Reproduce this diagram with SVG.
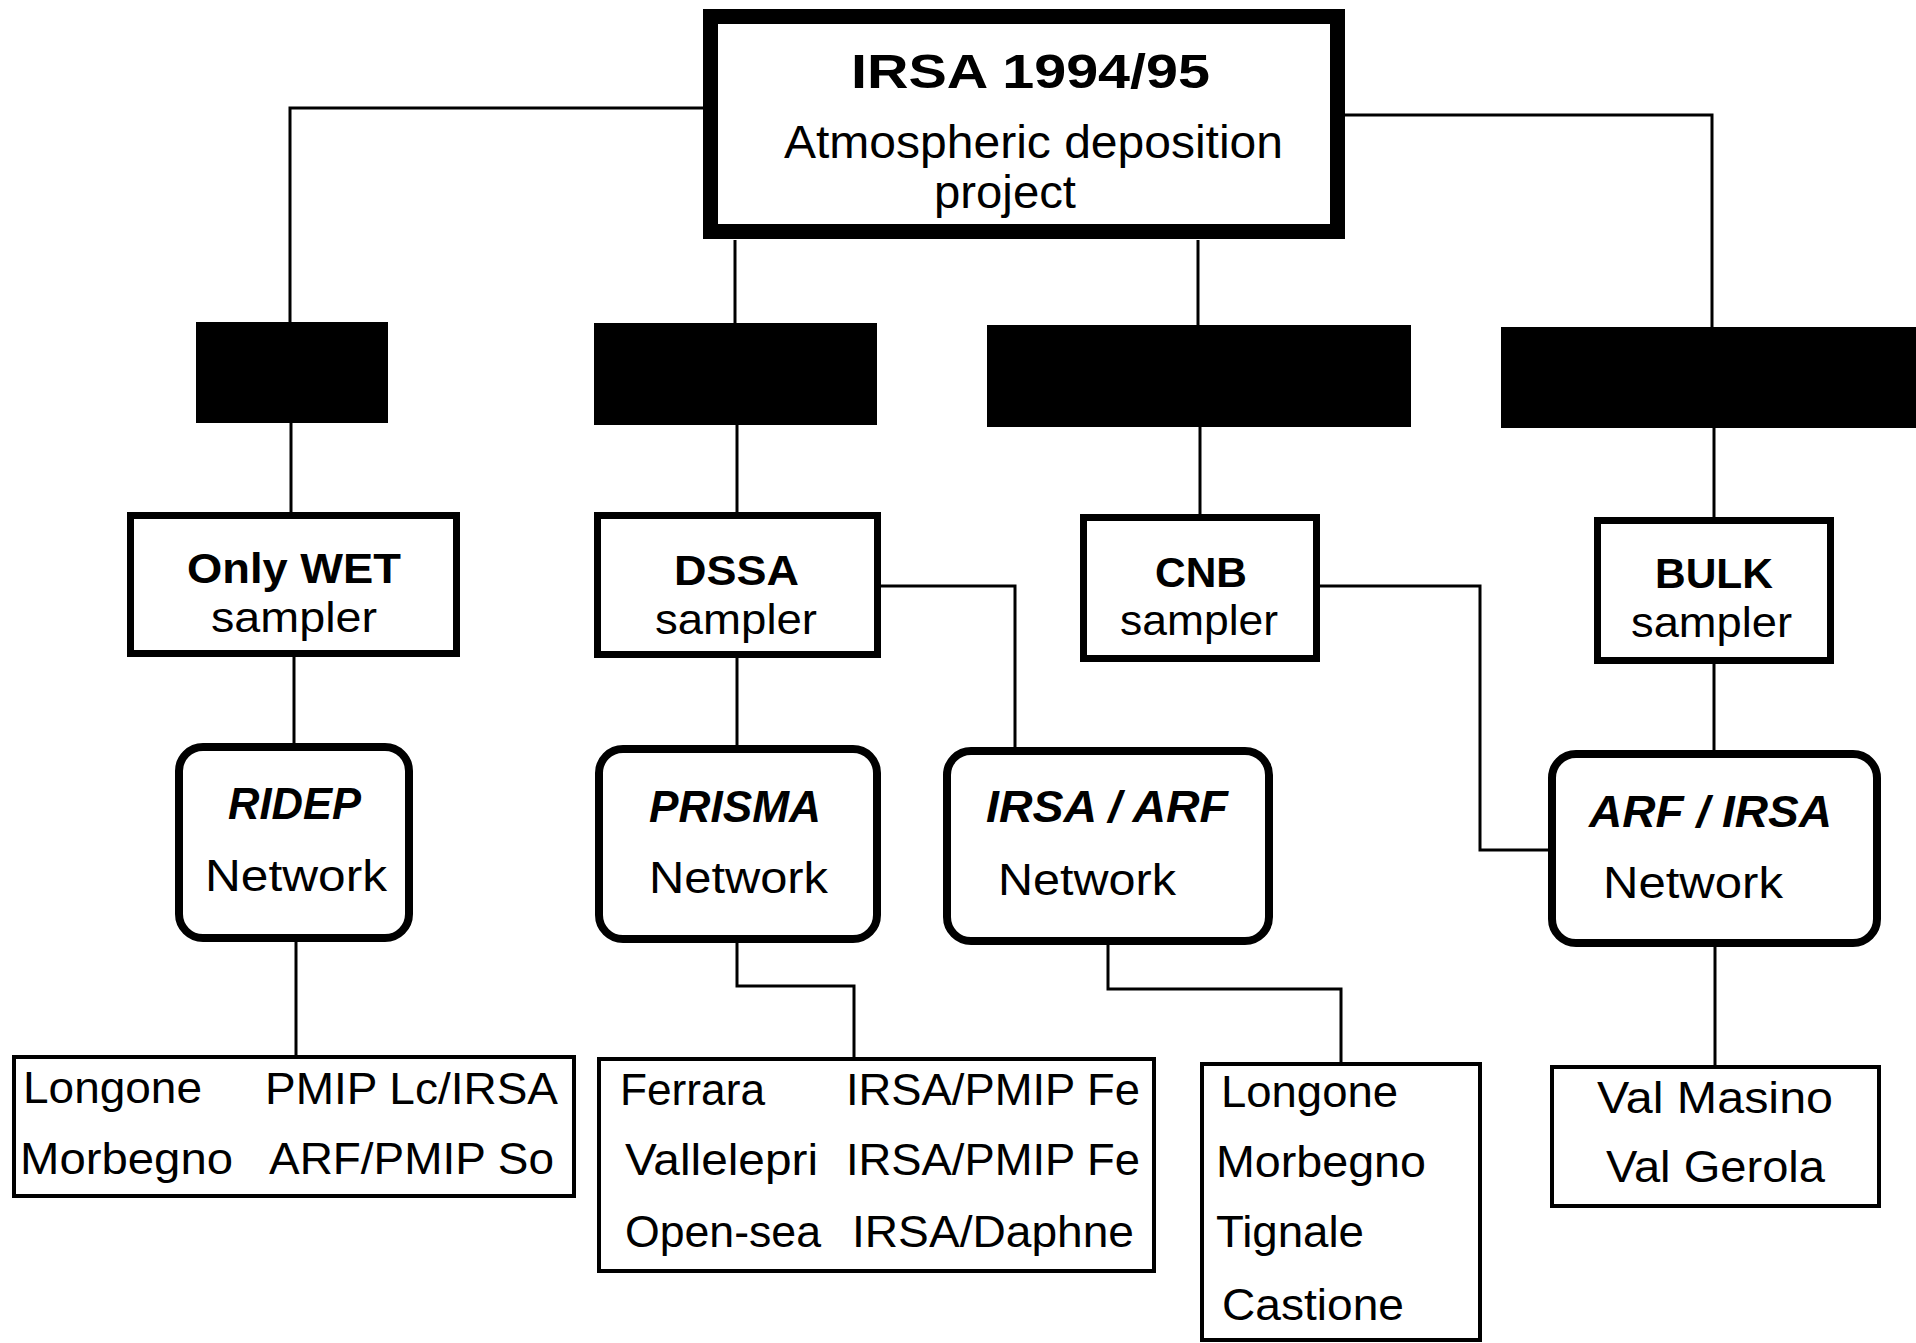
<svg xmlns="http://www.w3.org/2000/svg" width="1916" height="1343" viewBox="0 0 1916 1343">
<style>
text{font-family:"Liberation Sans",Arial,Helvetica,sans-serif;fill:#000;}
.t{font-size:46px;}
.tb{font-size:49px;font-weight:bold;}
.lb{font-size:43px;font-weight:bold;}
.lr{font-size:43px;}
.nr{font-size:45px;}
.li{font-size:45px;font-weight:bold;font-style:italic;}
.ls{font-size:45px;}
.top{fill:#fff;stroke:#000;stroke-width:15;}
.samp{fill:#fff;stroke:#000;stroke-width:7;}
.net{fill:#fff;stroke:#000;stroke-width:8;}
.list{fill:#fff;stroke:#000;stroke-width:4;}
.blk{fill:#000;}
.conn path{fill:none;stroke:#000;stroke-width:3;}
</style>
<rect width="1916" height="1343" fill="#fff"/>
<g id="connectors" class="conn">
<path d="M703 108 H290 V322"/>
<path d="M291 423 V512"/>
<path d="M294 657 V743"/>
<path d="M296 942 V1055"/>
<path d="M735 240 V323"/>
<path d="M737 425 V512"/>
<path d="M737 658 V745"/>
<path d="M881 586 H1015 V747"/>
<path d="M737 943 V986 H854 V1057"/>
<path d="M1198 240 V325"/>
<path d="M1200 427 V514"/>
<path d="M1320 586 H1480 V850 H1548"/>
<path d="M1108 945 V989 H1341 V1062"/>
<path d="M1345 115 H1712 V327"/>
<path d="M1714 428 V517"/>
<path d="M1714 664 V750"/>
<path d="M1715 947 V1065"/>
</g>
<g id="root">
<rect class="top" x="710.5" y="16.5" width="627" height="215"/>
<text class="tb" x="851" y="88" textLength="359" lengthAdjust="spacingAndGlyphs">IRSA 1994/95</text>
<text class="t" x="784" y="158" textLength="499" lengthAdjust="spacingAndGlyphs">Atmospheric deposition</text>
<text class="t" x="934" y="208" textLength="142" lengthAdjust="spacingAndGlyphs">project</text>
</g>
<g id="black1"><rect class="blk" x="196" y="322" width="192" height="101"/></g>
<g id="black2"><rect class="blk" x="594" y="323" width="283" height="102"/></g>
<g id="black3"><rect class="blk" x="987" y="325" width="424" height="102"/></g>
<g id="black4"><rect class="blk" x="1501" y="327" width="415" height="101"/></g>
<g id="wet">
<rect class="samp" x="130.5" y="515.5" width="326" height="138"/>
<text class="lb" x="187" y="583" textLength="214" lengthAdjust="spacingAndGlyphs">Only WET</text>
<text class="lr" x="211" y="632" textLength="166" lengthAdjust="spacingAndGlyphs">sampler</text>
</g>
<g id="dssa">
<rect class="samp" x="597.5" y="515.5" width="280" height="139"/>
<text class="lb" x="674" y="585" textLength="125" lengthAdjust="spacingAndGlyphs">DSSA</text>
<text class="lr" x="655" y="634" textLength="162" lengthAdjust="spacingAndGlyphs">sampler</text>
</g>
<g id="cnb">
<rect class="samp" x="1083.5" y="517.5" width="233" height="141"/>
<text class="lb" x="1155" y="587" textLength="92" lengthAdjust="spacingAndGlyphs">CNB</text>
<text class="lr" x="1120" y="635" textLength="158" lengthAdjust="spacingAndGlyphs">sampler</text>
</g>
<g id="bulk">
<rect class="samp" x="1597.5" y="520.5" width="233" height="140"/>
<text class="lb" x="1655" y="588" textLength="118" lengthAdjust="spacingAndGlyphs">BULK</text>
<text class="lr" x="1631" y="637" textLength="161" lengthAdjust="spacingAndGlyphs">sampler</text>
</g>
<g id="ridep">
<rect class="net" x="179" y="747" width="230" height="191" rx="24"/>
<text class="li" x="228" y="819" textLength="133" lengthAdjust="spacingAndGlyphs">RIDEP</text>
<text class="nr" x="205" y="891" textLength="182" lengthAdjust="spacingAndGlyphs">Network</text>
</g>
<g id="prisma">
<rect class="net" x="599" y="749" width="278" height="190" rx="24"/>
<text class="li" x="649" y="822" textLength="172" lengthAdjust="spacingAndGlyphs">PRISMA</text>
<text class="nr" x="649" y="893" textLength="179" lengthAdjust="spacingAndGlyphs">Network</text>
</g>
<g id="irsa-arf">
<rect class="net" x="947" y="751" width="322" height="190" rx="24"/>
<text class="li" x="986" y="822" textLength="242" lengthAdjust="spacingAndGlyphs">IRSA / ARF</text>
<text class="nr" x="998" y="895" textLength="178" lengthAdjust="spacingAndGlyphs">Network</text>
</g>
<g id="arf-irsa">
<rect class="net" x="1552" y="754" width="325" height="189" rx="24"/>
<text class="li" x="1589" y="827" textLength="243" lengthAdjust="spacingAndGlyphs">ARF / IRSA</text>
<text class="nr" x="1603" y="898" textLength="180" lengthAdjust="spacingAndGlyphs">Network</text>
</g>
<g id="list1">
<rect class="list" x="14" y="1057" width="560" height="139"/>
<text class="ls" x="23" y="1103" textLength="179" lengthAdjust="spacingAndGlyphs">Longone</text>
<text class="ls" x="265" y="1104" textLength="293" lengthAdjust="spacingAndGlyphs">PMIP Lc/IRSA</text>
<text class="ls" x="20" y="1174" textLength="213" lengthAdjust="spacingAndGlyphs">Morbegno</text>
<text class="ls" x="269" y="1174" textLength="285" lengthAdjust="spacingAndGlyphs">ARF/PMIP So</text>
</g>
<g id="list2">
<rect class="list" x="599" y="1059" width="555" height="212"/>
<text class="ls" x="620" y="1105" textLength="145" lengthAdjust="spacingAndGlyphs">Ferrara</text>
<text class="ls" x="846" y="1105" textLength="294" lengthAdjust="spacingAndGlyphs">IRSA/PMIP Fe</text>
<text class="ls" x="625" y="1175" textLength="193" lengthAdjust="spacingAndGlyphs">Vallelepri</text>
<text class="ls" x="846" y="1175" textLength="294" lengthAdjust="spacingAndGlyphs">IRSA/PMIP Fe</text>
<text class="ls" x="625" y="1247" textLength="196" lengthAdjust="spacingAndGlyphs">Open-sea</text>
<text class="ls" x="852" y="1247" textLength="282" lengthAdjust="spacingAndGlyphs">IRSA/Daphne</text>
</g>
<g id="list3">
<rect class="list" x="1202" y="1064" width="278" height="276"/>
<text class="ls" x="1221" y="1107" textLength="177" lengthAdjust="spacingAndGlyphs">Longone</text>
<text class="ls" x="1216" y="1177" textLength="210" lengthAdjust="spacingAndGlyphs">Morbegno</text>
<text class="ls" x="1216" y="1247" textLength="148" lengthAdjust="spacingAndGlyphs">Tignale</text>
<text class="ls" x="1222" y="1320" textLength="182" lengthAdjust="spacingAndGlyphs">Castione</text>
</g>
<g id="list4">
<rect class="list" x="1552" y="1067" width="327" height="139"/>
<text class="ls" x="1597" y="1113" textLength="236" lengthAdjust="spacingAndGlyphs">Val Masino</text>
<text class="ls" x="1606" y="1182" textLength="219" lengthAdjust="spacingAndGlyphs">Val Gerola</text>
</g>
</svg>
